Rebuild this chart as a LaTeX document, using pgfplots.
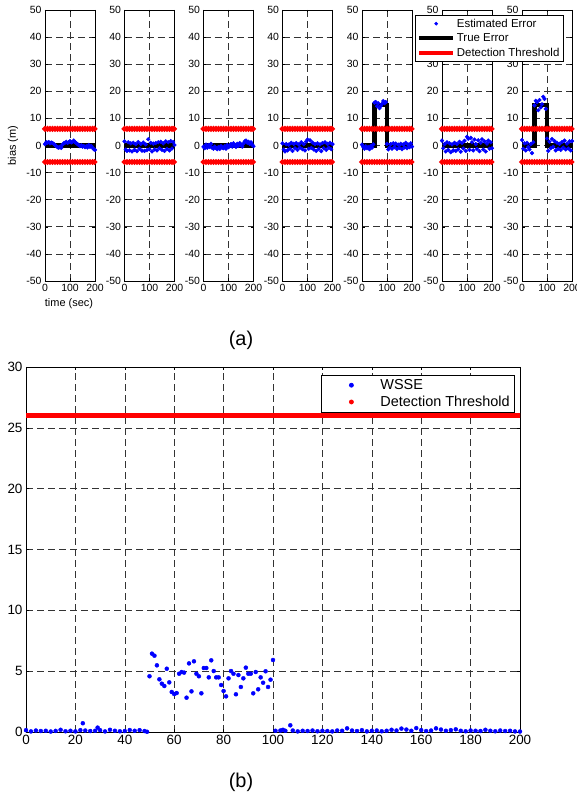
\documentclass[border=0pt]{standalone}
\usepackage{pgfplots}
\pgfplotsset{compat=1.18}
\usepackage{fontspec}
\setmainfont{Liberation Sans}

% estimated error, one column per panel
\pgfplotstableread{
t p1 p2 p3 p4 p5 p6 p7
0 0.5 1.5 -0.5 0.8 0.3 1.8 2.0
5 1.2 -1.5 -1.0 -1.5 -0.5 -1.0 -1.2
10 1.0 -2.0 0.3 -2.2 -1.2 0.5 0.8
15 1.3 1.2 -0.8 0.5 -0.3 -2.2 -1.8
20 0.8 -1.8 0.2 -1.8 -1.0 1.2 1.0
25 1.1 0.8 -0.5 0.3 -0.6 -1.6 -0.6
30 0.9 -2.2 0.6 -1.2 -1.4 0.8 -1.5
35 0.6 1.0 -0.9 1.0 -0.2 -2.5 0.5
40 0.2 -1.6 -1.2 -2.0 -0.8 0.4 -2.8
45 -0.3 0.5 -0.4 0.6 0.4 -1.8 1.2
50 -0.6 -2.1 -1.0 -1.0 15.8 1.0 14.8
55 -0.8 1.3 -1.4 0.9 16.0 -2.0 16.5
60 -0.5 -1.2 -0.6 -1.6 14.5 0.6 16.0
65 -0.9 0.6 -1.3 0.4 15.6 -1.4 13.0
70 0.3 -1.9 -0.2 -0.8 13.8 1.4 16.8
75 0.8 1.1 -0.8 1.2 14.6 -2.3 14.0
80 1.0 -2.0 -1.0 -1.4 15.4 0.9 15.2
85 1.4 0.4 -0.3 0.5 16.4 -1.1 18.0
90 0.9 -1.7 -1.2 -1.8 15.6 1.7 17.2
95 1.2 2.3 0.2 1.5 16.0 -2.0 13.5
100 1.6 -1.4 -0.6 2.2 0.6 3.2 2.6
105 1.1 1.0 -0.3 -1.2 -1.5 2.5 -2.0
110 1.3 -2.2 0.5 1.9 -0.8 -1.6 1.4
115 1.8 0.7 -0.4 -0.9 0.5 2.8 -1.0
120 1.2 -1.5 0.8 1.1 -1.2 1.2 2.4
125 0.9 0.9 0.2 -1.5 0.8 -1.8 -0.5
130 0.5 -1.8 -0.5 0.5 -0.6 2.2 1.6
135 0.2 1.2 0.6 -2.0 0.7 0.5 -1.8
140 -0.3 -1.0 -0.2 0.8 -1.3 -1.3 1.0
145 0.1 1.4 0.9 -1.3 0.3 1.9 -1.2
150 -0.4 -1.6 0.3 0.4 -0.9 -2.1 0.6
155 -0.2 0.8 -0.4 -2.1 0.6 1.0 -1.6
160 -0.6 -2.0 0.7 0.9 -1.4 2.3 1.3
165 -0.3 1.5 1.5 -1.0 0.4 -1.5 -0.8
170 -0.7 -1.3 1.8 1.2 -0.7 1.5 1.8
175 0.2 1.2 1.0 -1.6 1.0 -2.2 -1.5
180 -0.5 -1.8 1.4 0.6 -1.0 0.7 0.7
185 -0.2 1.6 0.6 -0.8 0.3 1.8 -1.1
190 -0.8 -1.1 1.2 1.0 -0.6 -1.2 1.5
195 -1.4 1.3 0.3 -1.4 0.8 1.2 -1.8
200 -1.6 0.2 -0.3 0.5 -0.4 -1.0 1.6
}\est

% detection threshold (+/-)
\pgfplotstableread{
t up low
0 6.1 -6.1
10 6.1 -6.1
20 6.1 -6.1
30 6.1 -6.1
40 6.1 -6.1
50 6.1 -6.1
60 6.1 -6.1
70 6.1 -6.1
80 6.1 -6.1
90 6.1 -6.1
100 6.1 -6.1
110 6.1 -6.1
120 6.1 -6.1
130 6.1 -6.1
140 6.1 -6.1
150 6.1 -6.1
160 6.1 -6.1
170 6.1 -6.1
180 6.1 -6.1
190 6.1 -6.1
198 6.1 -6.1
}\thr

% true error
\pgfplotstableread{
t nofault fault
0 0 0
50 0 0
50 0 15
100 0 15
100 0 0
200 0 0
}\truth

% WSSE
\pgfplotstableread{
t w
0 0.15
2 0.05
4 0.12
6 0.08
8 0.10
10 0.04
12 0.09
14 0.18
16 0.06
18 0.10
20 0.05
22 0.15
23 0.72
24 0.12
26 0.08
28 0.10
29 0.36
30 0.15
32 0.05
34 0.18
36 0.10
38 0.06
40 0.08
42 0.16
44 0.10
46 0.15
48 0.08
49 0.02
50 4.58
51 6.44
52 6.27
53 5.48
54 4.33
55 3.97
56 3.78
57 5.20
58 4.08
59 3.29
60 3.12
61 3.20
62 4.79
63 4.93
64 4.88
65 2.82
66 5.64
67 3.34
68 5.81
69 4.79
70 4.58
71 3.18
72 5.26
73 5.26
74 4.49
75 5.89
76 5.01
77 4.49
78 4.49
79 3.86
80 3.37
81 2.93
82 4.41
83 5.01
84 4.79
85 3.10
86 4.68
87 3.70
88 4.41
89 5.29
90 4.79
91 4.79
92 3.18
93 4.93
94 3.51
95 4.49
96 4.05
97 4.99
98 3.70
99 4.30
100 5.92
101 0.10
103 0.12
104 0.18
105 0.10
107 0.55
108 0.12
110 0.05
112 0.10
114 0.08
116 0.12
118 0.06
120 0.10
122 0.08
124 0.05
126 0.12
128 0.10
130 0.30
132 0.12
134 0.08
136 0.15
138 0.05
140 0.10
142 0.12
144 0.06
146 0.10
148 0.18
150 0.12
152 0.28
154 0.20
156 0.10
158 0.32
160 0.15
162 0.08
164 0.12
166 0.30
168 0.20
170 0.10
172 0.15
174 0.22
176 0.10
178 0.06
180 0.12
182 0.10
184 0.08
186 0.18
188 0.10
190 0.06
192 0.12
194 0.08
196 0.10
198 0.05
200 0.04
}\wsse

\pgfplotsset{
  mlgrid/.style={grid=major,
    major grid style={black!80, line width=0.6pt, dash pattern=on 7bp off 4bp},
    axis line style={line width=0.9pt}, tick style={black, line width=0.5pt},
    /pgf/number format/assume math mode=true},
  panel/.style={mlgrid, scale only axis, width=50bp, height=271bp, anchor=south west,
    xmin=0, xmax=200, ymin=-50, ymax=50,
    xtick={0,100,200}, ytick={-50,-40,...,50}, major tick length=2.5bp,
    tick label style={font=\fontsize{10.5}{11}\selectfont}},
  est/.style={only marks, mark=*, mark size=1.9bp, blue, forget plot},
  tru/.style={draw=black, line width=4.5bp, no marks, forget plot},
  thrs/.style={red, line width=2bp, mark=*, mark size=1.8bp, forget plot},
}

\begin{document}
\begin{tikzpicture}
\path[use as bounding box] (0,0) rectangle (577bp,795bp);

\begin{axis}[panel, at={(45bp,514bp)},
  xlabel={time (sec)}, xlabel style={at={(axis description cs:0.48,-0.085)}, anchor=center, font=\fontsize{11}{12}\selectfont},
  ylabel={bias (m)}, ylabel style={at={(axis description cs:-0.64,0.5)}, anchor=center, font=\fontsize{11}{12}\selectfont}]
\addplot[est] table[x=t,y=p1] {\est};
\addplot[tru] table[x=t,y=nofault] {\truth};
\addplot[thrs] table[x=t,y=up] {\thr};
\addplot[thrs] table[x=t,y=low] {\thr};
\end{axis}

\begin{axis}[panel, at={(124.5bp,514bp)}]
\addplot[est] table[x=t,y=p2] {\est};
\addplot[tru] table[x=t,y=nofault] {\truth};
\addplot[thrs] table[x=t,y=up] {\thr};
\addplot[thrs] table[x=t,y=low] {\thr};
\end{axis}

\begin{axis}[panel, at={(203.5bp,514bp)}]
\addplot[est] table[x=t,y=p3] {\est};
\addplot[tru] table[x=t,y=nofault] {\truth};
\addplot[thrs] table[x=t,y=up] {\thr};
\addplot[thrs] table[x=t,y=low] {\thr};
\end{axis}

\begin{axis}[panel, at={(282.5bp,514bp)}]
\addplot[est] table[x=t,y=p4] {\est};
\addplot[tru] table[x=t,y=nofault] {\truth};
\addplot[thrs] table[x=t,y=up] {\thr};
\addplot[thrs] table[x=t,y=low] {\thr};
\end{axis}

\begin{axis}[panel, at={(362bp,514bp)}]
\addplot[est] table[x=t,y=p5] {\est};
\addplot[tru] table[x=t,y=fault] {\truth};
\addplot[thrs] table[x=t,y=up] {\thr};
\addplot[thrs] table[x=t,y=low] {\thr};
\end{axis}

\begin{axis}[panel, at={(442bp,514bp)}]
\addplot[est] table[x=t,y=p6] {\est};
\addplot[tru] table[x=t,y=nofault] {\truth};
\addplot[thrs] table[x=t,y=up] {\thr};
\addplot[thrs] table[x=t,y=low] {\thr};
\end{axis}

\begin{axis}[panel, at={(522bp,514bp)},
  legend image code/.code={\path[draw=none,fill=none] (0bp,0bp) -- (34bp,0bp);
    \draw[mark repeat=2,mark phase=2,#1] plot coordinates {(0bp,0bp) (17bp,0bp) (34bp,0bp)};},
  legend style={at={(-2.14,0.982)}, anchor=north west, draw=black, line width=0.8pt,
    fill=white, font=\fontsize{11.5}{12}\selectfont, inner xsep=2bp, inner ysep=1.5bp,
    row sep=1bp},
  legend cell align=left]
\addplot[est] table[x=t,y=p7] {\est};
\addplot[tru] table[x=t,y=fault] {\truth};
\addplot[thrs] table[x=t,y=up] {\thr};
\addplot[thrs] table[x=t,y=low] {\thr};
\addlegendimage{only marks, mark=*, mark size=1.4bp, blue}
\addlegendentry{Estimated Error}
\addlegendimage{draw=black, line width=3.5bp, no marks}
\addlegendentry{True Error}
\addlegendimage{draw=red, line width=3.5bp, no marks}
\addlegendentry{Detection Threshold}
\end{axis}

\node[font=\fontsize{20}{22}\selectfont] at (241bp,455bp) {(a)};

\begin{axis}[mlgrid, scale only axis, width=494bp, height=365bp, at={(26bp,63bp)}, anchor=south west,
  xmin=0, xmax=200, ymin=0, ymax=30, xtick={0,20,...,200}, ytick={0,5,...,30},
  major tick length=3bp, tick label style={font=\fontsize{13.5}{15}\selectfont},
  legend image code/.code={\path[draw=none,fill=none] (0bp,0bp) -- (54bp,0bp);
    \draw[mark repeat=2,mark phase=2,#1] plot coordinates {(0bp,0bp) (27bp,0bp) (54bp,0bp)};},
  legend style={at={(0.99,0.978)}, anchor=north east, draw=black, line width=0.8pt,
    fill=white, font=\fontsize{14.5}{16}\selectfont, inner xsep=3bp, inner ysep=2bp, row sep=1bp},
  legend cell align=left]
\addplot[only marks, mark=*, mark size=2bp, blue, forget plot] table[x=t,y=w] {\wsse};
\addplot[red, line width=4.5bp, no marks, forget plot] coordinates {(0,26) (201,26)};
\addlegendimage{only marks, mark=*, mark size=2bp, blue}
\addlegendentry{WSSE}
\addlegendimage{only marks, mark=*, mark size=2bp, red}
\addlegendentry{Detection Threshold}
\end{axis}

\node[font=\fontsize{20}{22}\selectfont] at (241bp,13bp) {(b)};
\end{tikzpicture}
\end{document}
